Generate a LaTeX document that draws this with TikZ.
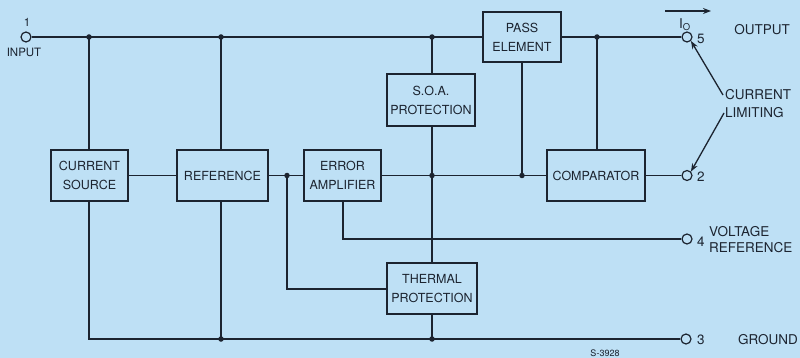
\documentclass[tikz,border=0pt]{standalone}
\usepackage{fontspec}
\setmainfont{TeX Gyre Heros}
\usetikzlibrary{arrows.meta}
\definecolor{bg}{RGB}{190,224,245}
\definecolor{ink}{RGB}{28,36,48}
\begin{document}
\begin{tikzpicture}[x=1pt,y=-1pt,
  ink/.style={draw=ink,line width=1.3pt},
  blk/.style={draw=ink,line width=2.4pt,rectangle,inner sep=0pt,align=center,
    font=\fontsize{12.5}{19}\selectfont,text=ink},
  term/.style={draw=ink,line width=1.2pt,circle,minimum size=10pt,inner sep=0pt},
  dotj/.style={fill=ink,circle,minimum size=5.5pt,inner sep=0pt},
  lbl/.style={text=ink,font=\fontsize{13.5}{18}\selectfont,inner sep=0pt},
  small/.style={text=ink,font=\fontsize{11.5}{13}\selectfont,inner sep=0pt},
  arr/.style={draw=ink,line width=1.3pt,-{Stealth[length=8pt,width=6pt]}}
]
\fill[bg] (0,0) rectangle (800,358);
\useasboundingbox (0,0) rectangle (800,358);

% blocks
\node[blk,minimum width=77pt,minimum height=51pt] (cs) at (89.5,175.5) {CURRENT\\SOURCE};
\node[blk,minimum width=91pt,minimum height=51pt] (ref) at (222.5,175.5) {REFERENCE};
\node[blk,minimum width=77pt,minimum height=51pt] (err) at (342.5,175.5) {ERROR\\AMPLIFIER};
\node[blk,minimum width=88pt,minimum height=52pt] (soa) at (431,100) {S.O.A.\\PROTECTION};
\node[blk,minimum width=78pt,minimum height=50pt] (pass) at (522,37) {PASS\\ELEMENT};
\node[blk,minimum width=98pt,minimum height=51pt] (comp) at (596,175.5) {COMPARATOR};
\node[blk,minimum width=90pt,minimum height=51pt] (therm) at (432,288.5) {THERMAL\\PROTECTION};

% terminals
\node[term] (c1) at (26,37) {};
\node[term] (c5) at (687,37) {};
\node[term] (c2) at (687,175.5) {};
\node[term] (c4) at (687,239) {};
\node[term] (c3) at (686,339) {};

% junctions
\node[dotj] (j1) at (89,37) {};
\node[dotj] (j2) at (221,37) {};
\node[dotj] (j3) at (432,37) {};
\node[dotj] (j4) at (597,37) {};
\node[dotj] (j5) at (287,175.5) {};
\node[dotj] (j6) at (432,175.5) {};
\node[dotj] (j7) at (522,175.5) {};
\node[dotj] (j8) at (221,339) {};
\node[dotj] (j9) at (432,339) {};
\coordinate (k1) at (89,339);
\coordinate (k2) at (287,289);
\coordinate (k3) at (343,239);

% connectors
\draw[ink] (c1.east) -- (pass.west);
\draw[ink] (pass.east) -- (c5.west);
\draw[ink] (j1.center) -- (j1 |- cs.north);
\draw[ink] (j2.center) -- (j2 |- ref.north);
\draw[ink] (j3.center) -- (j3 |- soa.north);
\draw[ink] (j4.center) -- (j4 |- comp.north);
\draw[ink] (cs.east) -- (ref.west);
\draw[ink] (ref.east) -- (err.west);
\draw[ink] (err.east) -- (comp.west);
\draw[ink] (comp.east) -- (c2.west);
\draw[ink] (pass.south) -- (j7.center);
\draw[ink] (j6 |- soa.south) -- (j6 |- therm.north);
\draw[ink] (therm.south -| j9) -- (j9.center);
\draw[ink] (j5.center) -- (k2) -- (therm.west |- k2);
\draw[ink] (k3 |- err.south) -- (k3) -- (c4.west);
\draw[ink] (j1 |- cs.south) -- (k1) -- (c3.west);
\draw[ink] (j8 |- ref.south) -- (j8.center);

% labels
\node[small] (n1) at (27,22) {1};
\node[small] (nin) at (24,52) {INPUT};
\node[lbl] (io) at (685,25) {I\textsubscript{O}};
\coordinate (ioa) at (665,11);
\coordinate (iob) at (711,11);
\draw[arr] (ioa) -- (iob);
\node[lbl,anchor=west] (n5) at (697,39) {5};
\node[lbl] (out) at (762,30) {OUTPUT};
\node[lbl,anchor=west,align=left] (cl) at (725,104) {CURRENT\\LIMITING};
\coordinate (cla) at (723,95);
\coordinate (clb) at (724,113);
\draw[arr] (cla) -- (c5.south east);
\draw[arr] (clb) -- (c2.north east);
\node[lbl,anchor=west] (n2) at (697,177) {2};
\node[lbl,anchor=west] (n4) at (697,242) {4};
\node[lbl,anchor=west,align=left,font=\fontsize{13.5}{16}\selectfont] (vr) at (709,240) {VOLTAGE\\REFERENCE};
\node[lbl,anchor=west] (n3) at (697,340) {3};
\node[lbl] (gnd) at (768,340) {GROUND};
\node[text=ink,font=\fontsize{9}{10}\selectfont,inner sep=0pt] (sn) at (605,353) {S-3928};
\end{tikzpicture}
\end{document}
